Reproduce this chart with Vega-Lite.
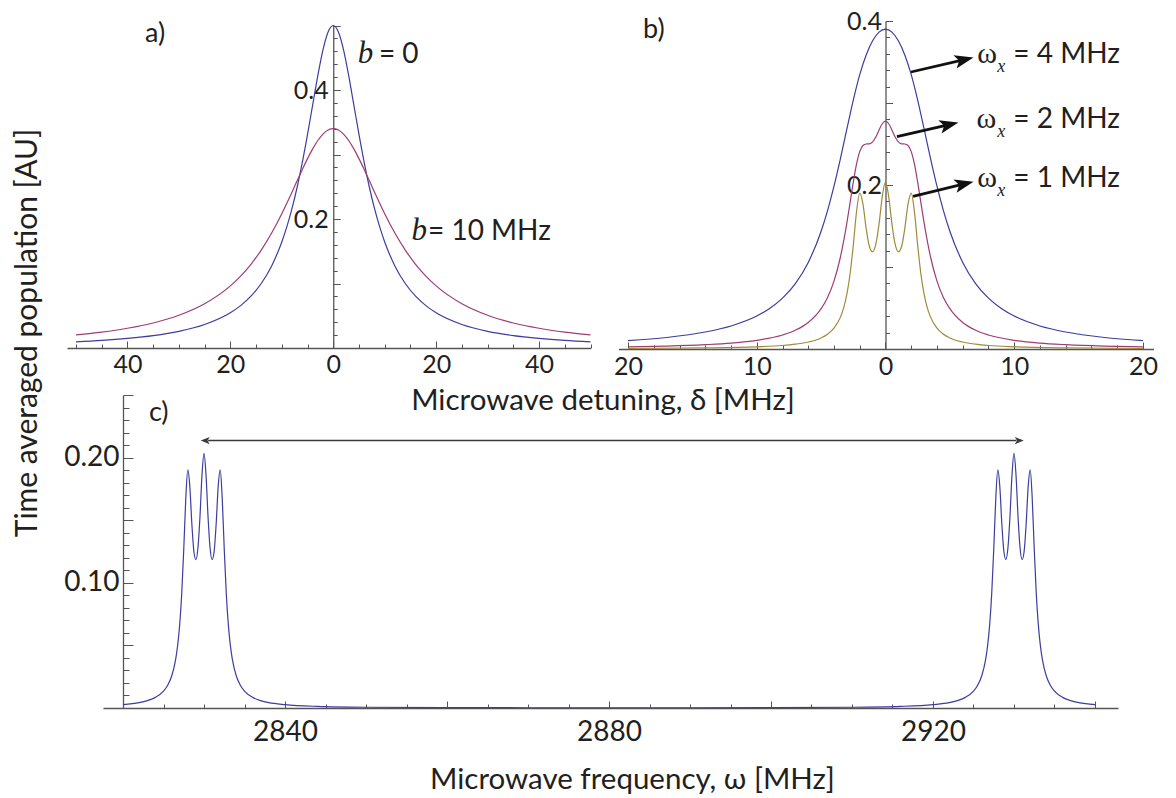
{
  "$schema": "https://vega.github.io/schema/vega-lite/v6.json",
  "width": 1176,
  "height": 798,
  "autosize": "none",
  "padding": 0,
  "background": "white",
  "config": {
    "view": {"stroke": null},
    "font": "Lato",
    "axis": {
      "grid": false,
      "labelFont": "Lato",
      "titleFont": "Lato",
      "labelColor": "#231f20",
      "titleColor": "#231f20",
      "titleFontWeight": "normal",
      "domainColor": "#555555",
      "tickColor": "#555555",
      "domainWidth": 1.3,
      "tickWidth": 1,
      "labelOverlap": false,
      "labelFlush": false,
      "labelBound": false
    }
  },
  "resolve": {
    "scale": {"x": "independent", "y": "independent", "color": "independent", "shape": "independent"},
    "axis": {"x": "independent", "y": "independent"}
  },
  "layer": [
    {
      "encoding": {
        "x": {
          "field": "x", "type": "quantitative",
          "scale": {"domain": [-51.75, 50], "range": [67, 590.5], "nice": false, "zero": false},
          "axis": {
            "orient": "bottom", "offset": -450,
            "values": [-50, -45, -40, -35, -30, -25, -20, -15, -10, -5, 0, 5, 10, 15, 20, 25, 30, 35, 40, 45, 50],
            "labelExpr": "abs(datum.value) % 20 === 0 ? format(abs(datum.value), 'd') : ''",
            "tickSize": {"condition": {"test": "abs(datum.value) % 20 === 0", "value": -7}, "value": -4},
            "labelFontSize": 25, "labelBaseline": "top", "labelPadding": 11,
            "title": "Microwave detuning, δ [MHz]", "titleFontSize": 29.5,
            "titleX": 602.5, "titleY": 61, "titleBaseline": "alphabetic", "titleAlign": "center"
          }
        },
        "y": {
          "field": "y", "type": "quantitative",
          "scale": {"domain": [0, 0.5], "range": [348, 25.5], "nice": false, "zero": false},
          "axis": {
            "orient": "left", "offset": -333.25,
            "values": [0.02, 0.04, 0.06, 0.08, 0.1, 0.12, 0.14, 0.16, 0.18, 0.2, 0.22, 0.24, 0.26, 0.28, 0.3, 0.32, 0.34, 0.36, 0.38, 0.4, 0.42, 0.44, 0.46, 0.48, 0.5],
            "labelExpr": "abs(datum.value - 0.2) < 0.001 ? '0.2' : abs(datum.value - 0.4) < 0.001 ? '0.4' : ''",
            "tickSize": {"condition": {"test": "abs(round(datum.value * 100)) % 10 === 0", "value": -7}, "value": -4},
            "labelFontSize": 25, "labelAlign": "right", "labelBaseline": "middle", "labelPadding": 12,
            "title": null
          }
        }
      },
      "layer": [
        {
          "data": {"values": [
            {"x": -50, "y": 0.0096, "s": "b0"}, {"x": -45, "y": 0.0118, "s": "b0"}, {"x": -40, "y": 0.0149, "s": "b0"},
            {"x": -35, "y": 0.0192, "s": "b0"}, {"x": -30, "y": 0.0258, "s": "b0"}, {"x": -25, "y": 0.0364, "s": "b0"},
            {"x": -20, "y": 0.0546, "s": "b0"}, {"x": -18, "y": 0.0657, "s": "b0"}, {"x": -16, "y": 0.0803, "s": "b0"},
            {"x": -14, "y": 0.1, "s": "b0"}, {"x": -12, "y": 0.1269, "s": "b0"}, {"x": -10, "y": 0.1644, "s": "b0"},
            {"x": -9, "y": 0.1885, "s": "b0"}, {"x": -8, "y": 0.2168, "s": "b0"}, {"x": -7, "y": 0.25, "s": "b0"},
            {"x": -6, "y": 0.2882, "s": "b0"}, {"x": -5, "y": 0.3311, "s": "b0"}, {"x": -4, "y": 0.3769, "s": "b0"},
            {"x": -3, "y": 0.4224, "s": "b0"}, {"x": -2, "y": 0.4623, "s": "b0"}, {"x": -1, "y": 0.49, "s": "b0"},
            {"x": 0, "y": 0.5, "s": "b0"},
            {"x": 1, "y": 0.49, "s": "b0"}, {"x": 2, "y": 0.4623, "s": "b0"}, {"x": 3, "y": 0.4224, "s": "b0"},
            {"x": 4, "y": 0.3769, "s": "b0"}, {"x": 5, "y": 0.3311, "s": "b0"}, {"x": 6, "y": 0.2882, "s": "b0"},
            {"x": 7, "y": 0.25, "s": "b0"}, {"x": 8, "y": 0.2168, "s": "b0"}, {"x": 9, "y": 0.1885, "s": "b0"},
            {"x": 10, "y": 0.1644, "s": "b0"}, {"x": 12, "y": 0.1269, "s": "b0"}, {"x": 14, "y": 0.1, "s": "b0"},
            {"x": 16, "y": 0.0803, "s": "b0"}, {"x": 18, "y": 0.0657, "s": "b0"}, {"x": 20, "y": 0.0546, "s": "b0"},
            {"x": 25, "y": 0.0364, "s": "b0"}, {"x": 30, "y": 0.0258, "s": "b0"}, {"x": 35, "y": 0.0192, "s": "b0"},
            {"x": 40, "y": 0.0149, "s": "b0"}, {"x": 45, "y": 0.0118, "s": "b0"}, {"x": 50, "y": 0.0096, "s": "b0"},
            {"x": -50, "y": 0.0202, "s": "b10"}, {"x": -45, "y": 0.0246, "s": "b10"}, {"x": -40, "y": 0.0306, "s": "b10"},
            {"x": -35, "y": 0.0388, "s": "b10"}, {"x": -30, "y": 0.0508, "s": "b10"}, {"x": -25, "y": 0.0686, "s": "b10"},
            {"x": -20, "y": 0.0963, "s": "b10"}, {"x": -18, "y": 0.1115, "s": "b10"}, {"x": -16, "y": 0.1298, "s": "b10"},
            {"x": -14, "y": 0.1518, "s": "b10"}, {"x": -12, "y": 0.1779, "s": "b10"}, {"x": -10, "y": 0.2082, "s": "b10"},
            {"x": -9, "y": 0.2248, "s": "b10"}, {"x": -8, "y": 0.242, "s": "b10"}, {"x": -7, "y": 0.2595, "s": "b10"},
            {"x": -6, "y": 0.2769, "s": "b10"}, {"x": -5, "y": 0.2936, "s": "b10"}, {"x": -4, "y": 0.3087, "s": "b10"},
            {"x": -3, "y": 0.3217, "s": "b10"}, {"x": -2, "y": 0.3316, "s": "b10"}, {"x": -1, "y": 0.3379, "s": "b10"},
            {"x": 0, "y": 0.34, "s": "b10"},
            {"x": 1, "y": 0.3379, "s": "b10"}, {"x": 2, "y": 0.3316, "s": "b10"}, {"x": 3, "y": 0.3217, "s": "b10"},
            {"x": 4, "y": 0.3087, "s": "b10"}, {"x": 5, "y": 0.2936, "s": "b10"}, {"x": 6, "y": 0.2769, "s": "b10"},
            {"x": 7, "y": 0.2595, "s": "b10"}, {"x": 8, "y": 0.242, "s": "b10"}, {"x": 9, "y": 0.2248, "s": "b10"},
            {"x": 10, "y": 0.2082, "s": "b10"}, {"x": 12, "y": 0.1779, "s": "b10"}, {"x": 14, "y": 0.1518, "s": "b10"},
            {"x": 16, "y": 0.1298, "s": "b10"}, {"x": 18, "y": 0.1115, "s": "b10"}, {"x": 20, "y": 0.0963, "s": "b10"},
            {"x": 25, "y": 0.0686, "s": "b10"}, {"x": 30, "y": 0.0508, "s": "b10"}, {"x": 35, "y": 0.0388, "s": "b10"},
            {"x": 40, "y": 0.0306, "s": "b10"}, {"x": 45, "y": 0.0246, "s": "b10"}, {"x": 50, "y": 0.0202, "s": "b10"}
          ]},
          "mark": {"type": "line", "strokeWidth": 1.2, "interpolate": "monotone"},
          "encoding": {
            "color": {"field": "s", "type": "nominal", "scale": {"domain": ["b0", "b10"], "range": ["#3d3d9e", "#9e3d72"]}, "legend": null}
          }
        },
        {
          "data": {"values": [
            {"x": 8.87, "y": 0.4414, "t": "= 0"},
            {"x": 18.42, "y": 0.1674, "t": "= 10 MHz"}
          ]},
          "mark": {"type": "text", "align": "left", "baseline": "alphabetic", "font": "Lato", "fontSize": 28, "color": "#231f20"},
          "encoding": {"text": {"field": "t"}}
        },
        {
          "data": {"values": [
            {"x": 4.77, "y": 0.4414, "t": "b"},
            {"x": 15.19, "y": 0.1674, "t": "b"}
          ]},
          "mark": {"type": "text", "align": "left", "baseline": "alphabetic", "font": "Liberation Serif", "fontStyle": "italic", "fontSize": 31, "color": "#231f20"},
          "encoding": {"text": {"field": "t"}}
        },
        {
          "data": {"values": [{"x": -36.6, "y": 0.4749, "t": "a)"}]},
          "mark": {"type": "text", "align": "left", "baseline": "alphabetic", "font": "Lato", "fontSize": 27, "color": "#231f20"},
          "encoding": {"text": {"field": "t"}}
        }
      ]
    },
    {
      "encoding": {
        "x": {
          "field": "x", "type": "quantitative",
          "scale": {"domain": [-20.74, 20.82], "range": [618.5, 1153.5], "nice": false, "zero": false},
          "axis": {
            "orient": "bottom", "offset": -449,
            "values": [-20, -18, -16, -14, -12, -10, -8, -6, -4, -2, 0, 2, 4, 6, 8, 10, 12, 14, 16, 18, 20],
            "labelExpr": "abs(datum.value) % 10 === 0 ? format(abs(datum.value), 'd') : ''",
            "tickSize": {"condition": {"test": "abs(datum.value) % 10 === 0", "value": -7}, "value": -4},
            "labelFontSize": 25, "labelBaseline": "top", "labelPadding": 12,
            "title": null
          }
        },
        "y": {
          "field": "y", "type": "quantitative",
          "scale": {"domain": [0, 0.4], "range": [349, 21], "nice": false, "zero": false},
          "axis": {
            "orient": "left", "offset": -885.5,
            "values": [0.02, 0.04, 0.06, 0.08, 0.1, 0.12, 0.14, 0.16, 0.18, 0.2, 0.22, 0.24, 0.26, 0.28, 0.3, 0.32, 0.34, 0.36, 0.38, 0.4],
            "labelExpr": "abs(datum.value - 0.2) < 0.001 ? '0.2' : abs(datum.value - 0.4) < 0.001 ? '0.4' : ''",
            "tickSize": {"condition": {"test": "abs(round(datum.value * 100)) % 10 === 0", "value": -7}, "value": -4},
            "labelFontSize": 25, "labelAlign": "right", "labelBaseline": "middle", "labelPadding": 11,
            "title": null
          }
        }
      },
      "layer": [
        {
          "data": {"values": [
            {"x": -20, "y": 0.0102, "s": "w4"}, {"x": -17, "y": 0.014, "s": "w4"}, {"x": -14, "y": 0.0207, "s": "w4"},
            {"x": -12, "y": 0.0281, "s": "w4"}, {"x": -10, "y": 0.0402, "s": "w4"}, {"x": -9, "y": 0.0494, "s": "w4"},
            {"x": -8, "y": 0.062, "s": "w4"}, {"x": -7, "y": 0.0798, "s": "w4"}, {"x": -6, "y": 0.1056, "s": "w4"},
            {"x": -5, "y": 0.1436, "s": "w4"}, {"x": -4.5, "y": 0.1688, "s": "w4"}, {"x": -4, "y": 0.1985, "s": "w4"},
            {"x": -3.5, "y": 0.2322, "s": "w4"}, {"x": -3, "y": 0.2683, "s": "w4"}, {"x": -2.5, "y": 0.3036, "s": "w4"},
            {"x": -2, "y": 0.3345, "s": "w4"}, {"x": -1.5, "y": 0.3586, "s": "w4"}, {"x": -1, "y": 0.3759, "s": "w4"},
            {"x": -0.5, "y": 0.3864, "s": "w4"}, {"x": 0, "y": 0.39, "s": "w4"},
            {"x": 0.5, "y": 0.3864, "s": "w4"}, {"x": 1, "y": 0.3759, "s": "w4"}, {"x": 1.5, "y": 0.3586, "s": "w4"},
            {"x": 2, "y": 0.3345, "s": "w4"}, {"x": 2.5, "y": 0.3036, "s": "w4"}, {"x": 3, "y": 0.2683, "s": "w4"},
            {"x": 3.5, "y": 0.2322, "s": "w4"}, {"x": 4, "y": 0.1985, "s": "w4"}, {"x": 4.5, "y": 0.1688, "s": "w4"},
            {"x": 5, "y": 0.1436, "s": "w4"}, {"x": 6, "y": 0.1056, "s": "w4"}, {"x": 7, "y": 0.0798, "s": "w4"},
            {"x": 8, "y": 0.062, "s": "w4"}, {"x": 9, "y": 0.0494, "s": "w4"}, {"x": 10, "y": 0.0402, "s": "w4"},
            {"x": 12, "y": 0.0281, "s": "w4"}, {"x": 14, "y": 0.0207, "s": "w4"}, {"x": 17, "y": 0.014, "s": "w4"},
            {"x": 20, "y": 0.0102, "s": "w4"},

            {"x": -20, "y": 0.0025, "s": "w2"}, {"x": -17, "y": 0.0035, "s": "w2"}, {"x": -14, "y": 0.0053, "s": "w2"},
            {"x": -12, "y": 0.0072, "s": "w2"}, {"x": -10, "y": 0.0106, "s": "w2"}, {"x": -8, "y": 0.0171, "s": "w2"},
            {"x": -7, "y": 0.0229, "s": "w2"}, {"x": -6, "y": 0.0323, "s": "w2"}, {"x": -5, "y": 0.0492, "s": "w2"},
            {"x": -4.5, "y": 0.0629, "s": "w2"}, {"x": -4, "y": 0.0828, "s": "w2"}, {"x": -3.5, "y": 0.1122, "s": "w2"},
            {"x": -3, "y": 0.1538, "s": "w2"}, {"x": -2.75, "y": 0.1785, "s": "w2"}, {"x": -2.5, "y": 0.2035, "s": "w2"},
            {"x": -2.25, "y": 0.2254, "s": "w2"}, {"x": -2, "y": 0.2407, "s": "w2"}, {"x": -1.75, "y": 0.2482, "s": "w2"},
            {"x": -1.5, "y": 0.25, "s": "w2"}, {"x": -1.25, "y": 0.2502, "s": "w2"}, {"x": -1, "y": 0.2525, "s": "w2"},
            {"x": -0.75, "y": 0.2585, "s": "w2"}, {"x": -0.5, "y": 0.267, "s": "w2"}, {"x": -0.25, "y": 0.2747, "s": "w2"},
            {"x": 0, "y": 0.2778, "s": "w2"},
            {"x": 0.25, "y": 0.2747, "s": "w2"}, {"x": 0.5, "y": 0.267, "s": "w2"}, {"x": 0.75, "y": 0.2585, "s": "w2"},
            {"x": 1, "y": 0.2525, "s": "w2"}, {"x": 1.25, "y": 0.2502, "s": "w2"}, {"x": 1.5, "y": 0.25, "s": "w2"},
            {"x": 1.75, "y": 0.2482, "s": "w2"}, {"x": 2, "y": 0.2407, "s": "w2"}, {"x": 2.25, "y": 0.2254, "s": "w2"},
            {"x": 2.5, "y": 0.2035, "s": "w2"}, {"x": 2.75, "y": 0.1785, "s": "w2"}, {"x": 3, "y": 0.1538, "s": "w2"},
            {"x": 3.5, "y": 0.1122, "s": "w2"}, {"x": 4, "y": 0.0828, "s": "w2"}, {"x": 4.5, "y": 0.0629, "s": "w2"},
            {"x": 5, "y": 0.0492, "s": "w2"}, {"x": 6, "y": 0.0323, "s": "w2"}, {"x": 7, "y": 0.0229, "s": "w2"},
            {"x": 8, "y": 0.0171, "s": "w2"}, {"x": 10, "y": 0.0106, "s": "w2"}, {"x": 12, "y": 0.0072, "s": "w2"},
            {"x": 14, "y": 0.0053, "s": "w2"}, {"x": 17, "y": 0.0035, "s": "w2"}, {"x": 20, "y": 0.0025, "s": "w2"},

            {"x": -20, "y": 0.0006, "s": "w1"}, {"x": -14, "y": 0.0013, "s": "w1"}, {"x": -10, "y": 0.0027, "s": "w1"},
            {"x": -8, "y": 0.0043, "s": "w1"}, {"x": -7, "y": 0.0059, "s": "w1"}, {"x": -6, "y": 0.0085, "s": "w1"},
            {"x": -5, "y": 0.0135, "s": "w1"}, {"x": -4.5, "y": 0.018, "s": "w1"}, {"x": -4, "y": 0.0254, "s": "w1"},
            {"x": -3.5, "y": 0.0389, "s": "w1"}, {"x": -3.25, "y": 0.0502, "s": "w1"}, {"x": -3, "y": 0.0668, "s": "w1"},
            {"x": -2.75, "y": 0.0915, "s": "w1"}, {"x": -2.5, "y": 0.1267, "s": "w1"}, {"x": -2.25, "y": 0.1673, "s": "w1"},
            {"x": -2, "y": 0.1902, "s": "w1"}, {"x": -1.75, "y": 0.1768, "s": "w1"}, {"x": -1.5, "y": 0.1469, "s": "w1"},
            {"x": -1.25, "y": 0.125, "s": "w1"}, {"x": -1, "y": 0.1185, "s": "w1"}, {"x": -0.75, "y": 0.1278, "s": "w1"},
            {"x": -0.5, "y": 0.1526, "s": "w1"}, {"x": -0.25, "y": 0.1859, "s": "w1"}, {"x": 0, "y": 0.2034, "s": "w1"},
            {"x": 0.25, "y": 0.1859, "s": "w1"}, {"x": 0.5, "y": 0.1526, "s": "w1"}, {"x": 0.75, "y": 0.1278, "s": "w1"},
            {"x": 1, "y": 0.1185, "s": "w1"}, {"x": 1.25, "y": 0.125, "s": "w1"}, {"x": 1.5, "y": 0.1469, "s": "w1"},
            {"x": 1.75, "y": 0.1768, "s": "w1"}, {"x": 2, "y": 0.1902, "s": "w1"}, {"x": 2.25, "y": 0.1673, "s": "w1"},
            {"x": 2.5, "y": 0.1267, "s": "w1"}, {"x": 2.75, "y": 0.0915, "s": "w1"}, {"x": 3, "y": 0.0668, "s": "w1"},
            {"x": 3.25, "y": 0.0502, "s": "w1"}, {"x": 3.5, "y": 0.0389, "s": "w1"}, {"x": 4, "y": 0.0254, "s": "w1"},
            {"x": 4.5, "y": 0.018, "s": "w1"}, {"x": 5, "y": 0.0135, "s": "w1"}, {"x": 6, "y": 0.0085, "s": "w1"},
            {"x": 7, "y": 0.0059, "s": "w1"}, {"x": 8, "y": 0.0043, "s": "w1"}, {"x": 10, "y": 0.0027, "s": "w1"},
            {"x": 14, "y": 0.0013, "s": "w1"}, {"x": 20, "y": 0.0006, "s": "w1"}
          ]},
          "mark": {"type": "line", "strokeWidth": 1.2, "interpolate": "monotone"},
          "encoding": {
            "color": {"field": "s", "type": "nominal", "scale": {"domain": ["w4", "w2", "w1"], "range": ["#3d3d9e", "#9e3d72", "#a08a3a"]}, "legend": null}
          }
        },
        {
          "data": {"values": [
            {"x": 1.98, "y": 0.3378, "x2": 6.12, "y2": 0.3529},
            {"x": 0.89, "y": 0.2589, "x2": 4.95, "y2": 0.2736},
            {"x": 2.14, "y": 0.186, "x2": 6.12, "y2": 0.2014}
          ]},
          "mark": {"type": "rule", "strokeWidth": 2.8, "color": "#111111"},
          "encoding": {"x2": {"field": "x2"}, "y2": {"field": "y2"}}
        },
        {
          "data": {"values": [
            {"x": 6.12, "y": 0.3529},
            {"x": 4.95, "y": 0.2736},
            {"x": 6.12, "y": 0.2014}
          ]},
          "mark": {"type": "point", "shape": "M1,0L-1,-0.72L-0.55,0L-1,0.72Z", "size": 361, "angle": 346.5, "filled": true, "opacity": 1, "color": "#111111", "strokeWidth": 0},
          "encoding": {}
        },
        {
          "data": {"values": [
            {"x": 7.13, "y": 0.3484, "t": "ω"},
            {"x": 7.07, "y": 0.2691, "t": "ω"},
            {"x": 7.13, "y": 0.1979, "t": "ω"}
          ]},
          "mark": {"type": "text", "align": "left", "baseline": "alphabetic", "font": "Liberation Serif", "fontSize": 30, "color": "#231f20"},
          "encoding": {"text": {"field": "t"}}
        },
        {
          "data": {"values": [
            {"x": 8.69, "y": 0.3382, "t": "x"},
            {"x": 8.69, "y": 0.2589, "t": "x"},
            {"x": 8.69, "y": 0.1866, "t": "x"}
          ]},
          "mark": {"type": "text", "align": "left", "baseline": "alphabetic", "font": "Liberation Serif", "fontStyle": "italic", "fontSize": 18, "color": "#231f20"},
          "encoding": {"text": {"field": "t"}}
        },
        {
          "data": {"values": [
            {"x": 9.93, "y": 0.3484, "t": "= 4 MHz"},
            {"x": 9.93, "y": 0.2691, "t": "= 2 MHz"},
            {"x": 9.93, "y": 0.1979, "t": "= 1 MHz"}
          ]},
          "mark": {"type": "text", "align": "left", "baseline": "alphabetic", "font": "Lato", "fontSize": 28, "color": "#231f20"},
          "encoding": {"text": {"field": "t"}}
        },
        {
          "data": {"values": [{"x": -18.83, "y": 0.3789, "t": "b)"}]},
          "mark": {"type": "text", "align": "left", "baseline": "alphabetic", "font": "Lato", "fontSize": 27, "color": "#231f20"},
          "encoding": {"text": {"field": "t"}}
        }
      ]
    },
    {
      "encoding": {
        "x": {
          "field": "x", "type": "quantitative",
          "scale": {"domain": [2817.53, 2942.84], "range": [103, 1118], "nice": false, "zero": false},
          "axis": {
            "orient": "bottom", "offset": -90,
            "values": [2820, 2825, 2830, 2835, 2840, 2845, 2850, 2855, 2860, 2865, 2870, 2875, 2880, 2885, 2890, 2895, 2900, 2905, 2910, 2915, 2920, 2925, 2930, 2935, 2940],
            "labelExpr": "datum.value === 2840 || datum.value === 2880 || datum.value === 2920 ? format(datum.value, 'd') : ''",
            "tickSize": {"condition": {"test": "datum.value % 20 === 0", "value": -7}, "value": -4},
            "labelFontSize": 28, "labelBaseline": "top", "labelPadding": 17,
            "title": "Microwave frequency, ω [MHz]", "titleFontSize": 29.5,
            "titleX": 632, "titleY": 80, "titleBaseline": "alphabetic", "titleAlign": "center"
          }
        },
        "y": {
          "field": "y", "type": "quantitative",
          "scale": {"domain": [0, 0.25], "range": [708, 395], "nice": false, "zero": false},
          "axis": {
            "orient": "left", "offset": -123,
            "values": [0.01, 0.02, 0.03, 0.04, 0.05, 0.06, 0.07, 0.08, 0.09, 0.1, 0.11, 0.12, 0.13, 0.14, 0.15, 0.16, 0.17, 0.18, 0.19, 0.2, 0.21, 0.22, 0.23, 0.24, 0.25],
            "labelExpr": "abs(datum.value - 0.1) < 0.001 ? '0.10' : abs(datum.value - 0.2) < 0.001 ? '0.20' : ''",
            "tickSize": {"condition": {"test": "round(datum.value * 100) % 5 === 0", "value": -10}, "value": -6},
            "labelFontSize": 28, "labelAlign": "right", "labelBaseline": "middle", "labelPadding": 14,
            "title": "Time averaged population [AU]", "titleFontSize": 30,
            "titleX": -87, "titleY": 332.5, "titleAngle": 270, "titleBaseline": "alphabetic", "titleAlign": "center"
          }
        }
      },
      "layer": [
        {
          "data": {"values": [
            {"x": 2820, "y": 0.0027}, {"x": 2822, "y": 0.0043}, {"x": 2823, "y": 0.0059}, {"x": 2824, "y": 0.0085},
            {"x": 2825, "y": 0.0135}, {"x": 2825.5, "y": 0.018}, {"x": 2826, "y": 0.0254}, {"x": 2826.5, "y": 0.0389},
            {"x": 2826.75, "y": 0.0502}, {"x": 2827, "y": 0.0668}, {"x": 2827.25, "y": 0.0915}, {"x": 2827.5, "y": 0.1267},
            {"x": 2827.75, "y": 0.1673}, {"x": 2828, "y": 0.1902}, {"x": 2828.25, "y": 0.1768}, {"x": 2828.5, "y": 0.1469},
            {"x": 2828.75, "y": 0.125}, {"x": 2829, "y": 0.1185}, {"x": 2829.25, "y": 0.1278}, {"x": 2829.5, "y": 0.1526},
            {"x": 2829.75, "y": 0.1859}, {"x": 2830, "y": 0.2034}, {"x": 2830.25, "y": 0.1859}, {"x": 2830.5, "y": 0.1526},
            {"x": 2830.75, "y": 0.1278}, {"x": 2831, "y": 0.1185}, {"x": 2831.25, "y": 0.125}, {"x": 2831.5, "y": 0.1469},
            {"x": 2831.75, "y": 0.1768}, {"x": 2832, "y": 0.1902}, {"x": 2832.25, "y": 0.1673}, {"x": 2832.5, "y": 0.1267},
            {"x": 2832.75, "y": 0.0915}, {"x": 2833, "y": 0.0668}, {"x": 2833.25, "y": 0.0502}, {"x": 2833.5, "y": 0.0389},
            {"x": 2834, "y": 0.0254}, {"x": 2834.5, "y": 0.018}, {"x": 2835, "y": 0.0135}, {"x": 2836, "y": 0.0085},
            {"x": 2837, "y": 0.0059}, {"x": 2838, "y": 0.0043}, {"x": 2840, "y": 0.0027}, {"x": 2844, "y": 0.0013},
            {"x": 2850, "y": 0.0006}, {"x": 2860, "y": 0.0003}, {"x": 2870, "y": 0.0002}, {"x": 2880, "y": 0.0002},
            {"x": 2890, "y": 0.0002}, {"x": 2900, "y": 0.0003}, {"x": 2910, "y": 0.0006}, {"x": 2916, "y": 0.0013},
            {"x": 2920, "y": 0.0027}, {"x": 2922, "y": 0.0043}, {"x": 2923, "y": 0.0059}, {"x": 2924, "y": 0.0085},
            {"x": 2925, "y": 0.0135}, {"x": 2925.5, "y": 0.018}, {"x": 2926, "y": 0.0254}, {"x": 2926.5, "y": 0.0389},
            {"x": 2926.75, "y": 0.0502}, {"x": 2927, "y": 0.0668}, {"x": 2927.25, "y": 0.0915}, {"x": 2927.5, "y": 0.1267},
            {"x": 2927.75, "y": 0.1673}, {"x": 2928, "y": 0.1902}, {"x": 2928.25, "y": 0.1768}, {"x": 2928.5, "y": 0.1469},
            {"x": 2928.75, "y": 0.125}, {"x": 2929, "y": 0.1185}, {"x": 2929.25, "y": 0.1278}, {"x": 2929.5, "y": 0.1526},
            {"x": 2929.75, "y": 0.1859}, {"x": 2930, "y": 0.2034}, {"x": 2930.25, "y": 0.1859}, {"x": 2930.5, "y": 0.1526},
            {"x": 2930.75, "y": 0.1278}, {"x": 2931, "y": 0.1185}, {"x": 2931.25, "y": 0.125}, {"x": 2931.5, "y": 0.1469},
            {"x": 2931.75, "y": 0.1768}, {"x": 2932, "y": 0.1902}, {"x": 2932.25, "y": 0.1673}, {"x": 2932.5, "y": 0.1267},
            {"x": 2932.75, "y": 0.0915}, {"x": 2933, "y": 0.0668}, {"x": 2933.25, "y": 0.0502}, {"x": 2933.5, "y": 0.0389},
            {"x": 2934, "y": 0.0254}, {"x": 2934.5, "y": 0.018}, {"x": 2935, "y": 0.0135}, {"x": 2936, "y": 0.0085},
            {"x": 2937, "y": 0.0059}, {"x": 2938, "y": 0.0043}, {"x": 2940, "y": 0.0027}
          ]},
          "mark": {"type": "line", "strokeWidth": 1.2, "interpolate": "monotone", "color": "#3d3d9e"},
          "encoding": {}
        },
        {
          "data": {"values": [{"x": 2830.5, "x2": 2930.3, "y": 0.2136}]},
          "mark": {"type": "rule", "strokeWidth": 1.4, "color": "#3a3a3a"},
          "encoding": {"x2": {"field": "x2"}}
        },
        {
          "data": {"values": [
            {"x": 2830.15, "y": 0.2136, "dir": "left"},
            {"x": 2930.65, "y": 0.2136, "dir": "right"}
          ]},
          "mark": {"type": "point", "size": 81, "filled": true, "opacity": 1, "color": "#3a3a3a", "strokeWidth": 0},
          "encoding": {
            "shape": {"field": "dir", "type": "nominal", "scale": {"domain": ["left", "right"], "range": ["M-1,0L1,-0.8L0.5,0L1,0.8Z", "M1,0L-1,-0.8L-0.5,0L-1,0.8Z"]}, "legend": null}
          }
        },
        {
          "data": {"values": [{"x": 2823.2, "y": 0.229, "t": "c)"}]},
          "mark": {"type": "text", "align": "left", "baseline": "alphabetic", "font": "Lato", "fontSize": 27, "color": "#231f20"},
          "encoding": {"text": {"field": "t"}}
        }
      ]
    }
  ]
}
